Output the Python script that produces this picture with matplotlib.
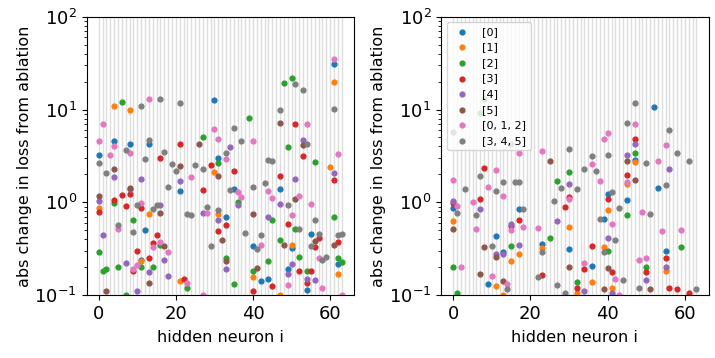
import matplotlib
matplotlib.use("Agg")
import matplotlib.pyplot as plt

labels = ["[0]", "[1]", "[2]", "[3]", "[4]", "[5]", "[0, 1, 2]", "[3, 4, 5]"]
n_neurons = 64

# left panel: (neuron, abs change) pairs per ablated group, only points above 0.1
left_0 = [(0, 3.2), (4, 4.6), (8, 4.3), (11, 0.24), (12, 0.50), (13, 4.2), (21, 1.31), (30, 12.6),
          (31, 3.0), (33, 0.69), (35, 1.4), (40, 0.34), (42, 0.14), (44, 0.15), (47, 1.4), (49, 0.19),
          (50, 0.32), (54, 0.114), (55, 0.46), (61, 31), (62, 0.216)]
left_1 = [(0, 0.86), (4, 10.9), (8, 9.8), (11, 0.23), (13, 0.75), (21, 0.14), (30, 2.14), (31, 0.74),
          (40, 0.156), (47, 0.10), (50, 0.35), (60, 2.4), (61, 19.7), (62, 0.168)]
left_2 = [(0, 0.29), (1, 0.18), (2, 0.19), (4, 0.97), (5, 0.20), (6, 12), (7, 0.1), (9, 0.64),
          (11, 0.2), (14, 0.20), (16, 0.35), (23, 0.12), (27, 5.0), (31, 2.66), (33, 0.25), (35, 0.13),
          (36, 1.0), (39, 8.1), (40, 0.18), (44, 0.23), (45, 0.64), (47, 0.39), (48, 19.5), (49, 3.96),
          (50, 22), (51, 0.51), (52, 0.256), (54, 0.18), (56, 2.75), (61, 0.69), (62, 0.25), (63, 0.226)]
left_3 = [(0, 0.79), (4, 1.05), (6, 1.21), (7, 0.92), (8, 1.24), (9, 0.18), (10, 0.30), (11, 0.86),
          (13, 0.25), (14, 0.36), (15, 0.44), (16, 3.0), (21, 4.2), (22, 0.15), (27, 1.35), (29, 2.5),
          (31, 0.49), (33, 0.57), (35, 2.2), (40, 0.11), (45, 0.124), (47, 1.94), (49, 0.58), (51, 7.0),
          (52, 0.18), (53, 3.14), (54, 0.136), (55, 0.18), (56, 0.33), (57, 0.41), (61, 1.76), (62, 0.37)]
left_4 = [(0, 1.02), (1, 0.44), (4, 1.88), (7, 0.22), (8, 1.4), (10, 0.11), (11, 1.8), (13, 0.175),
          (16, 0.94), (17, 0.24), (18, 0.16), (21, 1.7), (27, 0.77), (31, 0.64), (33, 0.19), (34, 3.9),
          (36, 0.94), (44, 0.7), (47, 0.95), (49, 0.167), (50, 0.215), (51, 1.79), (53, 4.7), (54, 0.15),
          (56, 0.144), (61, 2.07)]
left_5 = [(0, 1.16), (2, 0.11), (4, 2.3), (8, 1.43), (13, 0.136), (16, 0.77), (17, 0.34), (21, 2.45),
          (26, 4.2), (31, 1.9), (32, 0.39), (33, 0.23), (40, 0.75), (41, 0.195), (47, 7.2), (48, 0.345),
          (51, 1.09), (53, 4.1), (56, 0.38), (61, 0.35)]
left_012 = [(0, 4.6), (1, 7.0), (3, 3.2), (4, 4.0), (5, 0.51), (8, 3.36), (9, 0.19), (10, 0.21),
            (11, 0.98), (13, 13), (14, 0.33), (16, 0.37), (18, 0.29), (23, 0.136), (24, 1.85), (27, 0.10),
            (28, 0.77), (30, 6.1), (31, 4.8), (33, 2.94), (36, 1.3), (37, 1.13), (40, 4.6), (42, 0.35),
            (44, 1.31), (45, 1.1), (49, 0.127), (50, 0.72), (52, 1.18), (54, 6.9), (55, 0.95), (57, 0.25),
            (58, 0.12), (61, 34.9), (62, 3.3), (63, 0.10)]
left_345 = [(0, 2.66), (2, 2.07), (5, 0.57), (7, 3.7), (9, 0.48), (10, 0.94), (11, 11), (12, 2.94),
            (13, 4.7), (14, 0.85), (15, 0.94), (16, 13), (17, 3.5), (18, 1.46), (19, 2.58), (20, 2.2),
            (21, 11.7), (23, 0.74), (24, 0.72), (25, 2.5), (27, 2.3), (28, 0.9), (29, 0.34), (31, 0.83),
            (33, 3.36), (34, 1.35), (35, 6.4), (37, 4.56), (38, 0.47), (40, 1.45), (41, 0.31), (42, 0.44),
            (43, 1.62), (44, 2.84), (45, 2.78), (47, 10), (49, 0.94), (51, 18.7), (52, 0.51), (53, 16.3),
            (54, 4.3), (55, 0.34), (56, 0.64), (57, 0.46), (58, 0.24), (59, 0.256), (61, 10.2), (62, 0.44),
            (63, 0.45)]

# right panel
right_0 = [(0, 0.86), (9, 0.13), (11, 0.43), (13, 0.29), (17, 0.85), (23, 0.355), (30, 0.316), (36, 0.208),
           (39, 0.655), (40, 1.22), (45, 1.06), (47, 2.84), (52, 10.7), (53, 1.44), (55, 0.3)]
right_1 = [(0, 0.63), (11, 0.124), (13, 0.1), (15, 0.235), (17, 0.28), (23, 0.318), (30, 0.54), (32, 0.106),
           (36, 0.137), (39, 0.326), (40, 0.83), (41, 0.118), (45, 1.57), (47, 2.7), (55, 0.18)]
right_2 = [(0, 0.2), (1, 0.105), (7, 9.2), (8, 13), (15, 0.34), (25, 0.41), (27, 1.7), (30, 2.14),
           (32, 0.137), (40, 0.3), (45, 0.73), (47, 3.4), (50, 0.198), (59, 0.33)]
right_3 = [(0, 0.98), (7, 1.09), (8, 2.33), (15, 0.56), (17, 0.64), (23, 0.164), (29, 0.9), (30, 1.14),
           (32, 0.12), (34, 0.19), (36, 0.34), (40, 1.09), (41, 0.178), (45, 1.96), (47, 4.8), (50, 0.175),
           (55, 0.25), (56, 0.12), (58, 0.116), (61, 0.106)]
right_4 = [(0, 1.03), (7, 0.85), (11, 0.28), (13, 0.28), (15, 0.59), (17, 0.35), (27, 0.63), (30, 1.59),
           (34, 0.11), (40, 0.41), (41, 0.106), (45, 3.25), (47, 4.2), (50, 0.146), (55, 0.2), (56, 2.31)]
right_5 = [(0, 0.51), (7, 0.17), (8, 0.33), (11, 0.256), (13, 0.143), (25, 2.8), (30, 0.2), (39, 0.116),
           (40, 0.196), (45, 2.8), (47, 1.73), (51, 0.115)]
right_012 = [(0, 1.73), (1, 0.92), (2, 0.2), (5, 1.0), (6, 0.51), (9, 1.45), (10, 0.16), (11, 2.25),
             (13, 1.18), (14, 0.13), (15, 0.5), (17, 3.36), (18, 0.54), (22, 0.53), (23, 3.56), (30, 1.09),
             (34, 0.224), (36, 2.6), (38, 1.69), (39, 4.76), (40, 5.6), (41, 0.58), (42, 0.15), (43, 0.1),
             (45, 1.64), (47, 6.9), (48, 0.24), (49, 0.79), (50, 0.25), (53, 2.8), (54, 0.49), (55, 4.1),
             (59, 0.506)]
right_345 = [(0, 5.7), (1, 0.77), (3, 1.39), (6, 0.72), (7, 1.9), (10, 0.34), (11, 1.33), (13, 1.67),
             (14, 0.116), (15, 4.3), (16, 1.67), (17, 1.67), (18, 0.85), (22, 0.156), (23, 0.29), (26, 1.04),
             (27, 0.127), (28, 1.42), (29, 0.106), (30, 3.74), (32, 1.39), (34, 2.29), (36, 3.14), (37, 2.2),
             (38, 0.66), (39, 0.29), (40, 3.25), (41, 1.29), (42, 0.39), (43, 0.86), (44, 0.146), (45, 7.2),
             (47, 11.9), (48, 0.12), (50, 2.66), (51, 0.75), (55, 1.54), (56, 5.95), (58, 3.36), (61, 2.77),
             (63, 0.116)]

left_series = [left_0, left_1, left_2, left_3, left_4, left_5, left_012, left_345]
right_series = [right_0, right_1, right_2, right_3, right_4, right_5, right_012, right_345]

fig, axes = plt.subplots(1, 2, figsize=(7.15, 3.58), dpi=100)
fig.subplots_adjust(left=0.121, right=0.991, bottom=0.176, top=0.953, wspace=0.326)

for ax, series in zip(axes, [left_series, right_series]):
    for i in range(n_neurons):
        ax.axvline(i, color="#dedede", lw=1.0, zorder=0)
    for k, pts in enumerate(series):
        xs = [p[0] for p in pts]
        ys = [p[1] for p in pts]
        ax.scatter(xs, ys, s=12, color=f"C{k}", label=labels[k], zorder=2)
    ax.set_yscale("log")
    ax.set_ylim(0.1, 100)
    ax.set_xlim(-3.15, 66.15)
    ax.set_xticks([0, 20, 40, 60])
    ax.tick_params(labelsize=13)
    ax.set_xlabel("hidden neuron i", fontsize=11.5, labelpad=5)
    ax.set_ylabel("abs change in loss from ablation", fontsize=11.5, labelpad=2)

axes[1].legend(loc="upper left", fontsize=8)

fig.savefig("out.png", dpi=100)
